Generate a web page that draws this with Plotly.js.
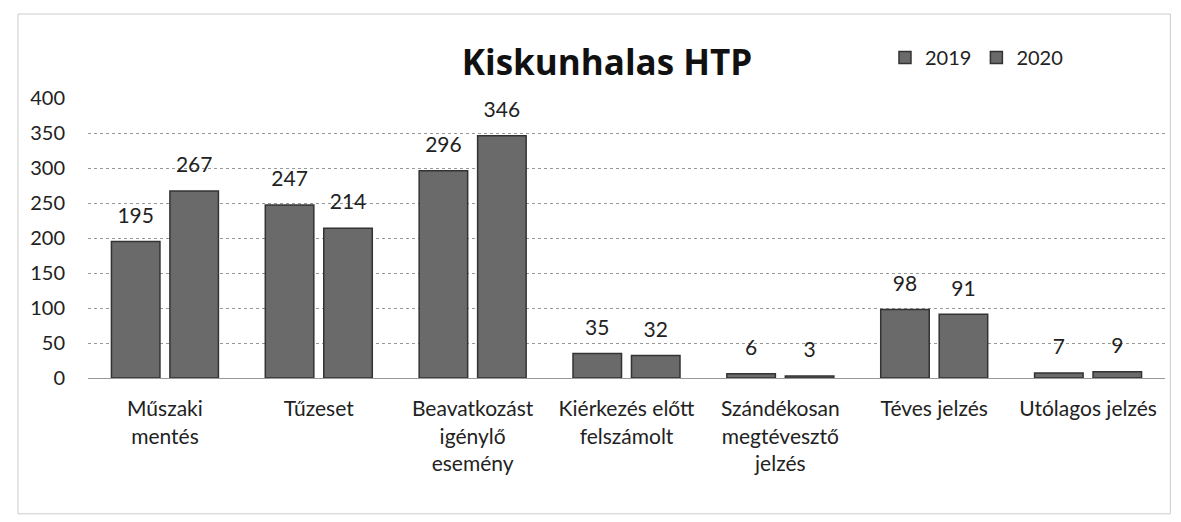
<!DOCTYPE html>
<html>
<head>
<meta charset="utf-8">
<script src="https://cdn.plot.ly/plotly-3.0.1.min.js"></script>
<style>html,body{margin:0;padding:0;background:#fff;}#chart{width:1181px;height:522px;}</style>
</head>
<body>
<div id="chart"></div>
<script>
var categories = ["Műszaki<br>mentés", "Tűzeset", "Beavatkozást<br>igénylő<br>esemény", "Kiérkezés előtt<br>felszámolt", "Szándékosan<br>megtévesztő<br>jelzés", "Téves jelzés", "Utólagos jelzés"];
var values2019 = [195, 247, 296, 35, 6, 98, 7];
var values2020 = [267, 214, 346, 32, 3, 91, 9];
var seriesNames = ["2019", "2020"];
var tickVals = [0, 50, 100, 150, 200, 250, 300, 350, 400];

var fontFam = "Lato, 'Open Sans', sans-serif";
function bar(name, vals, grp) {
  return {
    type: 'bar', name: name, x: categories, y: vals, offsetgroup: grp,
    marker: {color: '#6a6a6a', line: {color: '#333', width: 1.5}},
    hoverinfo: 'x+y'
  };
}
function lbl(name, vals, grp) {
  return {
    type: 'scatter', mode: 'markers+text', name: name, x: categories, y: vals, offsetgroup: grp,
    text: vals.map(String), textposition: 'top center', cliponaxis: false,
    textfont: {family: fontFam, size: 21, color: '#222'},
    marker: {size: 20, opacity: 0}, showlegend: false, hoverinfo: 'skip'
  };
}
var data = [bar(seriesNames[0], values2019, 'a'), bar(seriesNames[1], values2020, 'b'),
            lbl(seriesNames[0], values2019, 'a'), lbl(seriesNames[1], values2020, 'b')];
var layout = {
  width: 1181, height: 522,
  margin: {l: 88, r: 16, t: 98, b: 144},
  paper_bgcolor: '#fff', plot_bgcolor: '#fff',
  font: {family: fontFam, size: 20, color: '#222'},
  title: {text: '<b>Kiskunhalas HTP</b>', x: 0.514, xanchor: 'center', y: 0.88, yanchor: 'middle', font: {family: "'Open Sans', Lato, sans-serif", size: 35, color: '#111'}},
  barmode: 'group', bargap: 0.24, bargroupgap: 0.17,
  scattermode: 'group', scattergap: 0.24,
  showlegend: true,
  legend: {orientation: 'h', x: 0.74, xanchor: 'left', y: 1.145, yanchor: 'middle', font: {size: 20, color: '#222'}, itemwidth: 30, traceorder: 'normal', bgcolor: 'rgba(0,0,0,0)'},
  xaxis: {showgrid: false, showline: true, linecolor: '#999', ticks: '', tickfont: {size: 21, color: '#222'}, ticklabelstandoff: 12, automargin: false},
  yaxis: {range: [0, 400], tickvals: tickVals, showgrid: true, gridcolor: '#999', griddash: 'dot', gridwidth: 1, zeroline: false, showline: false, tickfont: {size: 20, color: '#222'}, ticklabelstandoff: 22, automargin: false},
  shapes: [{type: 'rect', xref: 'paper', yref: 'paper', x0: -0.065, x1: 1.005, y0: -0.485, y1: 1.3, line: {color: '#ccc', width: 1}}]
};
Plotly.newPlot('chart', data, layout, {displayModeBar: false, staticPlot: true});
</script>
</body>
</html>
